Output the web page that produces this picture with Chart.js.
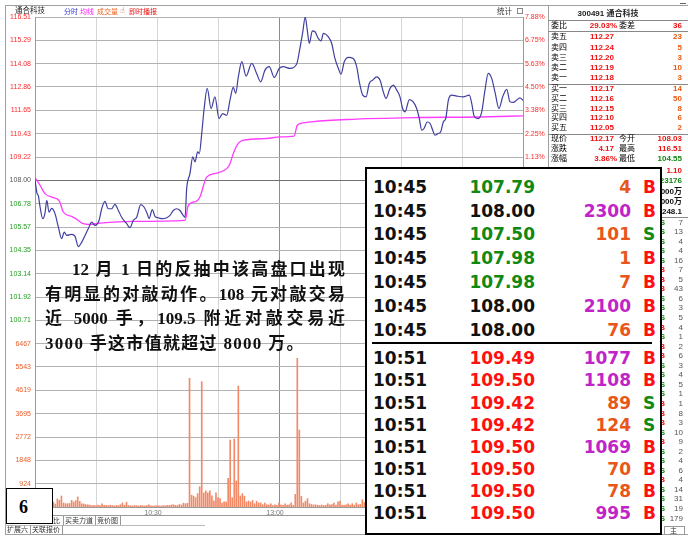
<!DOCTYPE html>
<html><head><meta charset="utf-8">
<script src="https://cdn.jsdelivr.net/npm/chart.js@4.4.0/dist/chart.umd.min.js"></script>
<style>
html,body{margin:0;padding:0;background:#fff;}
#wrap{position:relative;width:688px;height:543px;overflow:hidden;background:#fff;font-family:"Liberation Sans","Noto Sans CJK SC",sans-serif;}
.abs{position:absolute;white-space:nowrap;}
#cw{position:absolute;left:0;top:0;width:548px;height:543px;}
</style></head>
<body><div id="wrap"><div id="cw"><canvas id="c"></canvas></div></div>
<script>
// ---------------- data ----------------
const prevClose = 108.00;
const priceTickLabels = ['116.51','115.29','114.08','112.86','111.65','110.43','109.22','108.00','106.78','105.57','104.35','103.14','101.92','100.71'];
const volTickLabels = ['6467','5543','4619','3695','2772','1848','924'];
const pctTickLabels = ['7.88%','6.75%','5.63%','4.50%','3.38%','2.25%','1.13%','0.00%','-1.13%','-2.25%','-3.38%','-4.50%','-5.63%','-6.75%'];
const timeTickMinutes = [60,120,180];
const timeTickLabels = ['10:30','13:00','14:00'];

// [minute from 9:30, price]
const pricePoints = [[0,108.05],[1,107.32],[1.6,107.22],[2.5,106.61],[3.8,106.00],[4.9,106.28],[5.8,106.96],[6.9,106.34],[8.2,106.54],[9.8,106.28],[11.5,105.56],[13.1,104.96],[14.4,105.30],[15.6,105.13],[18,105.18],[19.7,105.08],[21.3,104.55],[23,104.78],[24.6,105.13],[26.2,105.48],[27.9,105.82],[29.5,105.65],[31.5,105.91],[32.8,106.52],[34.4,106.90],[36,106.52],[37.7,106.52],[39.3,106.75],[41,106.43],[42.6,106.08],[45.1,105.74],[46.7,105.53],[48.3,105.91],[50,106.08],[52,106.73],[53.6,106.61],[55.2,106.26],[56.1,106.00],[57.7,106.47],[59,106.12],[60.6,106.05],[62.6,106.00],[64.8,106.05],[66.4,106.17],[68,106.43],[69.7,106.52],[71.3,106.43],[72.9,106.17],[73.8,106.08],[74.6,107.57],[76.2,108.35],[77.6,109.22],[78.7,108.96],[80,109.48],[80.8,109.39],[82,110.44],[83.1,111.65],[84.7,112.79],[86.6,111.74],[88.5,112.35],[90.5,111.22],[92.3,111.48],[94.3,111.39],[95.9,112.18],[97.5,112.84],[98.7,112.53],[100,113.39],[101.7,114.18],[103.8,113.43],[106.6,114.09],[109,113.57],[111,113.13],[113.1,113.74],[115.2,113.92],[117.7,113.36],[120.1,113.83],[122.1,113.92],[125.4,113.83],[128.7,114.06],[130.3,114.89],[131.7,115.74],[132.9,116.51],[133.9,115.83],[134.9,115.14],[136.4,115.79],[137.7,115.74],[139.3,115.40],[140.7,115.27],[141.8,115.66],[144.3,115.48],[145.9,115.14],[147.5,114.35],[149.2,113.83],[150.5,113.53],[152.1,114.18],[154.1,114.41],[156.5,114.35],[158.2,113.92],[159.5,113.13],[161.2,112.44],[162.8,112.35],[164.4,113.05],[166.1,113.22],[168,113.39],[169.7,113.22],[171.3,112.61],[172.6,112.27],[174.6,112.79],[176.2,112.96],[177.9,112.70],[179.5,112.35],[180.8,111.74],[182,111.57],[184.1,112.21],[186,112.09],[187.7,111.74],[189,111.22],[190.2,110.61],[191.3,110.70],[192.9,111.04],[194.3,110.96],[195.6,110.61],[196.7,110.35],[198.3,110.44],[199.5,110.52],[200.8,111.04],[202,111.22],[203.3,112.18],[204.9,112.44],[207.4,112.39],[210.6,112.35],[213.6,112.44],[214.8,112.00],[216,111.34],[218,111.22],[219.7,111.57],[221.3,112.70],[222.9,113.57],[224.6,113.31],[226.2,112.61],[228.2,111.74],[230,112.35],[232,112.74],[233.6,112.09],[235.2,112.06],[236.9,112.18],[238.5,112.30],[240,112.17]];

const avgPoints = [[0,108.14],[2.5,107.74],[4.9,107.31],[9,107.10],[12,106.92],[13.9,106.35],[18,106.12],[21.3,105.91],[23,105.77],[27,105.70],[32,105.77],[48.3,105.86],[73.8,105.91],[75.4,106.69],[79.5,106.92],[81.1,107.13],[84.4,108.17],[89.4,108.38],[94.3,108.61],[95.9,108.87],[97.5,109.39],[100,109.92],[102.5,110.09],[113.9,110.18],[120.5,110.26],[127.4,110.30],[129,110.87],[131.9,110.99],[136.9,111.06],[153.3,111.17],[186,111.27],[218.9,111.30],[240,111.36]];

// volume per minute (0..240)
const volumes = [
300,150,200,120,180,100,150,120,100,200,
120,320,265,435,160,130,130,140,265,200,
250,400,225,130,120,100,90,80,60,70,
50,80,60,130,70,60,50,70,60,40,
60,50,90,160,70,190,60,50,40,60,
50,40,60,50,40,60,90,50,40,50,
60,50,40,60,50,70,60,80,90,70,
60,100,80,150,130,150,5097,470,430,370,
530,800,4962,560,640,560,640,440,240,560,
370,330,160,200,200,1136,2653,370,2693,1030,
4792,440,530,430,200,240,200,260,130,230,
160,160,90,160,90,80,130,60,90,70,
160,90,70,130,80,90,160,70,500,5890,
3049,420,160,230,330,130,100,80,90,70,
60,80,60,70,130,90,100,160,80,200,
230,80,70,90,130,80,130,70,160,90,
100,290,180,150,120,200,140,260,310,150,
120,90,180,140,110,160,130,240,150,120,
320,280,140,110,90,130,150,120,200,380,
260,170,140,130,110,150,120,90,140,160,
230,310,420,600,380,240,180,150,140,130,
120,150,110,180,250,330,290,200,160,140,
380,520,460,300,250,200,230,310,260,220,
180,200,240,150,170,140,160,200,260,230,
520];

// order book
const stockTitle = '300491 通合科技';
const sellLabels = ['卖五','卖四','卖三','卖二','卖一'];
const sellPrices = ['112.27','112.24','112.20','112.19','112.18'];
const sellVols = ['23','5','3','10','3'];
const buyLabels = ['买一','买二','买三','买四','买五'];
const buyPrices = ['112.17','112.16','112.15','112.10','112.05'];
const buyVols = ['14','50','8','6','2'];
const tickListVols = [7,13,4,4,16,7,5,43,6,3,5,4,1,2,6,3,4,5,1,1,8,3,10,9,2,4,6,4,14,31,19,179];
const tickListSides = ['S','S','S','S','S','B','B','B','S','S','S','B','S','B','B','S','S','S','S','B','B','B','S','B','S','S','S','B','S','S','S','S'];

// trade detail box
const tradeTimesA = ['10:45','10:45','10:45','10:45','10:45','10:45','10:45'];
const tradePricesA = ['107.79','108.00','107.50','107.98','107.98','108.00','108.00'];
const tradeVolsA = [4,2300,101,1,7,2100,76];
const tradeSidesA = ['B','B','S','B','B','B','B'];
const tradeTimesB = ['10:51','10:51','10:51','10:51','10:51','10:51','10:51','10:51'];
const tradePricesB = ['109.49','109.50','109.42','109.42','109.50','109.50','109.50','109.50'];
const tradeVolsB = [1077,1108,89,124,1069,70,78,995];
const tradeSidesB = ['B','B','S','S','B','B','B','B'];

const noteLines = ['12 月 1 日的反抽中该高盘口出现','有明显的对敲动作。108 元对敲交易','近 5000 手，109.5 附近对敲交易近','3000 手这市值就超过 8000 万。'];

// ---------------- helpers ----------------
const W = 688;
const wrap = document.getElementById('wrap');
const RED = '#ee1111', GREEN = '#118811';
function put(text, x, yc, o = {}) {
  const size = o.size || 8, lh = Math.round(size * 1.3);
  const d = document.createElement('div');
  d.className = 'abs';
  d.textContent = text;
  d.style.fontSize = size + 'px';
  d.style.lineHeight = lh + 'px';
  d.style.top = (yc - lh / 2) + 'px';
  d.style.color = o.color || '#000';
  if (o.weight) d.style.fontWeight = o.weight;
  if (o.family) d.style.fontFamily = o.family;
  if (o.align === 'right') d.style.right = (W - x) + 'px';
  else if (o.align === 'center') { d.style.left = (x - 150) + 'px'; d.style.width = '300px'; d.style.textAlign = 'center'; }
  else d.style.left = x + 'px';
  wrap.appendChild(d);
  return d;
}
function rect(x, y, w, h, css) {
  const d = document.createElement('div');
  d.className = 'abs';
  d.style.left = x + 'px'; d.style.top = y + 'px';
  d.style.width = w + 'px'; d.style.height = h + 'px';
  d.style.boxSizing = 'border-box';
  Object.assign(d.style, css);
  wrap.appendChild(d);
  return d;
}

// ---------------- chart ----------------
const step = 8.51 / 7;
const yMax = 116.51, yMin = yMax - 21 * step;
const volMax = 21 * 6467 / 7;
function gridTicks(axis) {
  const t = [];
  for (let i = 0; i <= 21; i++) t.push({ value: yMax - i * step });
  axis.ticks = t;
}
const leftLabels = priceTickLabels.concat(volTickLabels);
const tickFont = { size: 7, family: 'Liberation Sans' };

new Chart(document.getElementById('c'), {
  type: 'line',
  data: {
    datasets: [
      { label: '分时', data: pricePoints.map(p => ({ x: p[0], y: p[1] })), borderColor: '#3f3f9f', borderWidth: 1.2, pointRadius: 0, cubicInterpolationMode: 'monotone', yAxisID: 'y', order: 1 },
      { label: '均线', data: avgPoints.map(p => ({ x: p[0], y: p[1] })), borderColor: '#ff3cff', borderWidth: 1.3, pointRadius: 0, cubicInterpolationMode: 'monotone', yAxisID: 'y', order: 2 },
      { type: 'bar', label: '成交量', data: volumes.map((v, i) => ({ x: i, y: v })), backgroundColor: '#f28a68', barThickness: 1, yAxisID: 'yv', order: 3 }
    ]
  },
  options: {
    responsive: true, maintainAspectRatio: false, animation: false,
    layout: { padding: { left: 5, right: 0, top: 17, bottom: 25 } },
    plugins: { legend: { display: false }, tooltip: { enabled: false } },
    scales: {
      x: {
        type: 'linear', min: 0, max: 240, offset: false,
        afterBuildTicks: a => { a.ticks = [0, 30, 60, 90, 120, 150, 180, 210, 240].map(v => ({ value: v })); },
        afterFit: s => { s.height = 11; },
        ticks: { autoSkip: false, maxRotation: 0, padding: 2, font: tickFont, color: '#777', labelOffset: -4,
          callback: v => { const k = timeTickMinutes.indexOf(v); return k >= 0 ? timeTickLabels[k] : ''; } },
        grid: { offset: false, drawTicks: false, color: c => c.index === 4 ? '#8c8c8c' : '#d6d6d6', lineWidth: 1 },
        border: { display: true, color: '#999' }
      },
      y: {
        position: 'left', min: yMin, max: yMax,
        afterBuildTicks: gridTicks,
        afterFit: s => { s.width = 30; },
        ticks: { autoSkip: false, padding: 4, font: tickFont,
          color: c => c.index < 7 ? '#ff2a2a' : c.index === 7 ? '#555' : c.index <= 13 ? '#22a022' : '#e8602c',
          callback: (v, i) => leftLabels[i] || '' },
        grid: { drawTicks: false, color: c => c.index === 7 ? '#707070' : '#b2b2b2', lineWidth: 1 },
        border: { display: true, color: '#999' }
      },
      yp: {
        position: 'right', min: yMin, max: yMax,
        afterBuildTicks: gridTicks,
        afterFit: s => { s.width = 25; },
        ticks: { autoSkip: false, padding: 2, font: tickFont,
          color: c => c.index < 7 ? '#ff2a2a' : c.index === 7 ? '#555' : '#22a022',
          callback: (v, i) => pctTickLabels[i] || '' },
        grid: { drawOnChartArea: false, drawTicks: false },
        border: { display: true, color: '#999' }
      },
      yv: { display: false, min: 0, max: volMax }
    }
  }
});

// ---------------- frame & header ----------------
rect(5, 5, 683, 1, { background: '#a0a0a0' });
rect(5, 5, 1, 530, { background: '#a0a0a0' });
rect(548, 5, 1, 530, { background: '#a0a0a0' });
rect(5, 534, 683, 1, { background: '#a0a0a0' });
put('通合科技', 15, 11, { size: 7.5, color: '#222' });
put('分时', 64, 11, { size: 7, color: '#3333cc' });
put('均线', 80, 11, { size: 7, color: '#ff22ff' });
put('成交量', 97, 11, { size: 7, color: '#ee6622' });
put('☝', 120, 11, { size: 8, color: '#b05010', family: 'DejaVu Sans' });
put('即时播报', 129, 11, { size: 7, color: '#ee1111' });
put('统计', 497, 12, { size: 7.5, color: '#333' });
rect(517, 8, 6, 6, { border: '1px solid #888' });
rect(680, 3, 6, 1, { background: '#666' });

// ---------------- order book ----------------
put(stockTitle, 608, 14, { size: 8, align: 'center', weight: 'bold', color: '#222' });
rect(548, 20, 140, 1, { background: '#888' });
put('委比', 551, 26, { size: 8 });
put('29.03%', 617, 26, { size: 8, align: 'right', color: RED, weight: 'bold' });
put('委差', 619, 26, { size: 8 });
put('36', 682, 26, { size: 8, align: 'right', color: RED, weight: 'bold' });
rect(548, 31, 140, 1, { background: '#888' });
const sellY = [37.3, 48.3, 58.3, 68.3, 78.3];
sellLabels.forEach((s, i) => {
  put(s, 551, sellY[i], { size: 8 });
  put(sellPrices[i], 614, sellY[i], { size: 8, align: 'right', color: RED, weight: 'bold' });
  put(sellVols[i], 682, sellY[i], { size: 8, align: 'right', color: '#e85a10', weight: 'bold' });
});
rect(548, 84, 140, 1, { background: '#888' });
const buyY = [89.3, 99.3, 108.8, 118.3, 128.3];
buyLabels.forEach((s, i) => {
  put(s, 551, buyY[i], { size: 8 });
  put(buyPrices[i], 614, buyY[i], { size: 8, align: 'right', color: RED, weight: 'bold' });
  put(buyVols[i], 682, buyY[i], { size: 8, align: 'right', color: '#e85a10', weight: 'bold' });
});
rect(548, 134, 140, 1, { background: '#888' });
put('现价', 551, 138.5, { size: 8 }); put('112.17', 614, 138.5, { size: 8, align: 'right', color: RED, weight: 'bold' });
put('今开', 619, 138.5, { size: 8 }); put('108.03', 682, 138.5, { size: 8, align: 'right', color: RED, weight: 'bold' });
put('涨跌', 551, 148.5, { size: 8 }); put('4.17', 614, 148.5, { size: 8, align: 'right', color: RED, weight: 'bold' });
put('最高', 619, 148.5, { size: 8 }); put('116.51', 682, 148.5, { size: 8, align: 'right', color: RED, weight: 'bold' });
put('涨幅', 551, 158.5, { size: 8 }); put('3.86%', 617, 158.5, { size: 8, align: 'right', color: RED, weight: 'bold' });
put('最低', 619, 158.5, { size: 8 }); put('104.55', 682, 158.5, { size: 8, align: 'right', color: GREEN, weight: 'bold' });
put('1.10', 682, 171, { size: 8, align: 'right', color: RED, weight: 'bold' });
put('23176', 682, 181, { size: 8, align: 'right', color: GREEN, weight: 'bold' });
put('2.6000万', 682, 191.5, { size: 8, align: 'right', color: '#111', weight: 'bold' });
put('2.3000万', 682, 201.5, { size: 8, align: 'right', color: '#111', weight: 'bold' });
put('248.1', 682, 211.5, { size: 8, align: 'right', color: '#111', weight: 'bold' });
rect(548, 217, 140, 1, { background: '#888' });
tickListVols.forEach((v, i) => {
  const y = 222.5 + i * 9.55;
  put(String(v), 683, y, { size: 8, align: 'right', color: '#555' });
  put(tickListSides[i], 665, y, { size: 8, align: 'right', color: tickListSides[i] === 'B' ? RED : GREEN, weight: 'bold' });
});
rect(664, 526, 21, 9, { border: '1px solid #999' });
put('主', 670, 530.5, { size: 7, color: '#333' });

// ---------------- bottom tabs ----------------
rect(5, 515, 543, 1, { background: '#999' });
rect(5, 525, 200, 1, { background: '#bbb' });
put('量比', 46, 520, { size: 7, color: '#333' });
rect(63, 515, 1, 10, { background: '#999' });
put('买卖力道', 65, 520, { size: 7, color: '#333' });
rect(95, 515, 1, 10, { background: '#999' });
put('竞价图', 97, 520, { size: 7, color: '#333' });
rect(120, 515, 1, 10, { background: '#999' });
put('扩展六', 7, 529.5, { size: 7, color: '#333' });
rect(30, 525, 1, 9, { background: '#999' });
put('关联报价', 32, 529.5, { size: 7, color: '#333' });
rect(62, 525, 1, 9, { background: '#999' });

// ---------------- note text ----------------
const noteX = [72, 45, 45, 45], noteW = [273, 300, 300, 0], noteY = [269.5, 294.5, 319, 344];
noteLines.forEach((s, i) => {
  const d = put(s, noteX[i], noteY[i], { size: 17, weight: 'bold', family: '"Liberation Serif","Noto Sans CJK SC",serif', color: '#111' });
  d.style.lineHeight = '22px'; d.style.top = (noteY[i] - 11) + 'px';
  d.style.letterSpacing = '1.3px';
  if (noteW[i]) { d.style.width = noteW[i] + 'px'; d.style.whiteSpace = 'normal'; d.style.textAlign = 'justify'; d.style.textAlignLast = 'justify'; d.style.letterSpacing = '0px'; }
});

// ---------------- "6" box ----------------
rect(6, 488, 47, 36, { background: '#fff', border: '1px solid #000' });
put('6', 19, 507.5, { size: 18, weight: 'bold', family: '"Liberation Serif",serif', color: '#000' });

// ---------------- trade detail box ----------------
rect(365, 167, 297, 368, { background: '#fff', border: '2px solid #000' });
rect(372, 342, 280, 2, { background: '#000' });
const tf = '"DejaVu Sans",sans-serif';
function priceColor(p) { const v = parseFloat(p); return v < prevClose ? GREEN : v > prevClose ? '#ff1010' : '#111'; }
function tradeRow(t, p, v, s, y) {
  put(t, 373, y, { size: 17, weight: 'bold', family: tf, color: '#111' });
  put(p, 535, y, { size: 17, weight: 'bold', family: tf, color: priceColor(p), align: 'right' });
  put(String(v), 631, y, { size: 17, weight: 'bold', family: tf, color: v >= 500 ? '#c024c8' : '#e8561a', align: 'right' });
  put(s, 643, y, { size: 17, weight: 'bold', family: tf, color: s === 'B' ? '#ff1010' : GREEN });
}
tradeTimesA.forEach((t, i) => tradeRow(t, tradePricesA[i], tradeVolsA[i], tradeSidesA[i], 186.7 + i * 23.8));
tradeTimesB.forEach((t, i) => tradeRow(t, tradePricesB[i], tradeVolsB[i], tradeSidesB[i], 358.3 + i * 22.15));
</script>
</body></html>
